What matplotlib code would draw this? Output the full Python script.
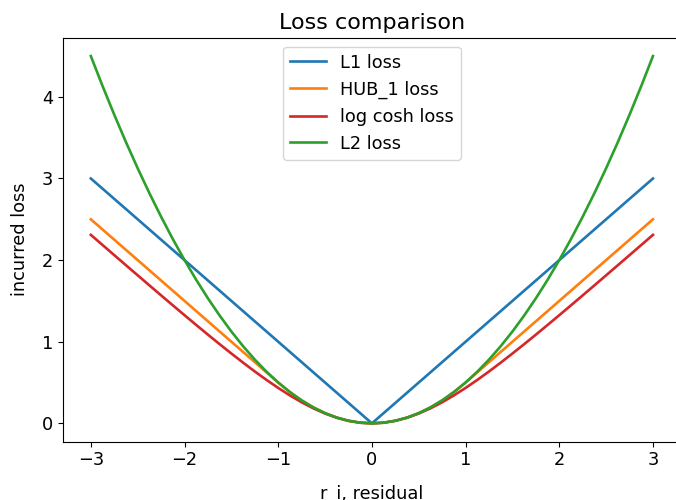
import matplotlib.pyplot as plt

plt.rcParams['font.size'] = 12.8
plt.rcParams['axes.titlesize'] = 16
plt.rcParams['lines.linewidth'] = 1.9

# residual grid, r >= 0 (curves are symmetric about 0)
r_half = [0.0, 0.125, 0.25, 0.375, 0.5, 0.625, 0.75, 0.875, 1.0, 1.125, 1.25, 1.375,
          1.5, 1.625, 1.75, 1.875, 2.0, 2.125, 2.25, 2.375, 2.5, 2.625, 2.75, 2.875, 3.0]

# loss values at each residual
l1_half = [0.0, 0.125, 0.25, 0.375, 0.5, 0.625, 0.75, 0.875, 1.0, 1.125, 1.25, 1.375,
           1.5, 1.625, 1.75, 1.875, 2.0, 2.125, 2.25, 2.375, 2.5, 2.625, 2.75, 2.875, 3.0]
hub1_half = [0.0, 0.0078, 0.0313, 0.0703, 0.125, 0.1953, 0.2813, 0.3828, 0.5, 0.625, 0.75, 0.875,
             1.0, 1.125, 1.25, 1.375, 1.5, 1.625, 1.75, 1.875, 2.0, 2.125, 2.25, 2.375, 2.5]
logcosh_half = [0.0, 0.0078, 0.0309, 0.0687, 0.1201, 0.1838, 0.2583, 0.3421, 0.4338, 0.5321, 0.6356,
                0.7438, 0.8555, 0.9699, 1.0865, 1.2051, 1.325, 1.446, 1.5679, 1.6905, 1.8137,
                1.9371, 2.0609, 2.185, 2.3093]
l2_half = [0.0, 0.0078, 0.0313, 0.0703, 0.125, 0.1953, 0.2813, 0.3828, 0.5, 0.6328, 0.7813, 0.9453,
           1.125, 1.3203, 1.5313, 1.7578, 2.0, 2.2578, 2.5313, 2.8203, 3.125, 3.4453, 3.7813,
           4.1328, 4.5]


def mirror(vals, neg=False):
    left = [-v for v in vals[:0:-1]] if neg else vals[:0:-1]
    return left + vals


r = mirror(r_half, neg=True)

fig = plt.figure(figsize=(6.76, 5.0), dpi=100)
ax = fig.add_axes([0.0928, 0.1166, 0.9147, 0.808])

ax.plot(r, mirror(l1_half), color='tab:blue', label='L1 loss')
ax.plot(r, mirror(hub1_half), color='tab:orange', label='HUB_1 loss')
ax.plot(r, mirror(logcosh_half), color='tab:red', label='log cosh loss')
ax.plot(r, mirror(l2_half), color='tab:green', label='L2 loss')

ax.set_title('Loss comparison')
ax.set_xlabel('r_i, residual', labelpad=11)
ax.set_ylabel('incurred loss', labelpad=9)
ax.legend(loc='upper center')

fig.savefig('out.png', dpi=100)
